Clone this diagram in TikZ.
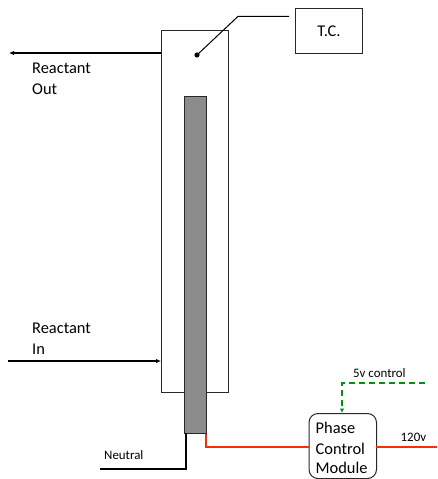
\documentclass[tikz,border=0pt]{standalone}
\usepackage{fontspec}
\setmainfont{Carlito}
\usetikzlibrary{arrows.meta,calc}
\definecolor{heater}{RGB}{140,140,140}
\definecolor{redline}{RGB}{245,45,10}
\definecolor{greenline}{RGB}{10,140,20}
\definecolor{boxline}{RGB}{40,40,40}
\tikzset{
  x=1pt,y=-1pt,
  boxed/.style={draw=boxline,line width=1pt,inner sep=0pt,anchor=north west},
  label/.style={inner sep=0pt,anchor=base west,font=\fontsize{16.4}{19}\selectfont},
  small/.style={inner sep=0pt,anchor=base west,font=\fontsize{12.9}{15}\selectfont},
  flow/.style={draw=black,line width=1.5pt,-{Latex[length=5pt,width=4.5pt]}},
  wire/.style={draw=black,line width=1.5pt},
  hot/.style={draw=redline,line width=1.8pt},
  ctrl/.style={draw=greenline,line width=1.5pt,dash pattern=on 6pt off 4pt,-{Latex[length=4.5pt,width=4.5pt]}}
}
\begin{document}
\begin{tikzpicture}
\useasboundingbox (0,0) rectangle (437,479);
\clip (0,0) rectangle (437,479);
\node[boxed,minimum width=67pt,minimum height=362pt] (outer) at (161,30) {};
\node[boxed,fill=heater,minimum width=22pt,minimum height=337pt] (heat) at (184,96) {};
\node[boxed,minimum width=67pt,minimum height=45pt,font=\fontsize{16.4}{19}\selectfont] (tc) at (295,8) {T.C.};
\node[boxed,rounded corners=9pt,minimum width=67.5pt,minimum height=65pt] (pcm) at (308.5,413) {};
\fill (197,55) circle (2.6pt) coordinate (dot);
\coordinate (tcbend) at (238,16.4);
\coordinate (tcend) at (289,16.4);
\draw[draw=black,line width=1pt] (dot) -- (tcbend) -- (tcend);
\coordinate (outend) at (9,53);
\coordinate (outstart) at (161,53);
\draw[flow] (outstart) -- (outend);
\coordinate (instart) at (8,361);
\coordinate (inend) at (161,361);
\draw[flow] (instart) -- (inend);
\coordinate (neutralend) at (100,469);
\coordinate (neutralbend) at (186,469);
\coordinate (neutraltop) at (186,433);
\draw[wire] (neutraltop) -- (neutralbend) -- (neutralend);
\coordinate (hottop) at (206.2,433.5);
\coordinate (hotbend) at (206.2,447);
\coordinate (pcmwest) at (308.5,447);
\coordinate (pcmeast) at (376,447);
\coordinate (mains) at (437,447);
\draw[hot] (hottop) -- (hotbend) -- (pcmwest);
\draw[hot] (pcmeast) -- (mains);
\coordinate (ctrlstart) at (425,383);
\coordinate (ctrlbend) at (342,383);
\coordinate (ctrlend) at (342,413);
\draw[ctrl] (ctrlstart) -- (ctrlbend) -- (ctrlend);
\node[label] (l1) at (32,73) {Reactant};
\node[label] (l2) at (32,94) {Out};
\node[label] (l3) at (32,333) {Reactant};
\node[label] (l4) at (32,354) {In};
\node[label] (m1) at (315.5,433) {Phase};
\node[label] (m2) at (315.5,454) {Control};
\node[label] (m3) at (315.5,473.5) {Module};
\node[small] (s1) at (353,377) {5v control};
\node[small] (s2) at (400.5,441) {120v};
\node[small] (s3) at (104,459) {Neutral};
\end{tikzpicture}
\end{document}
